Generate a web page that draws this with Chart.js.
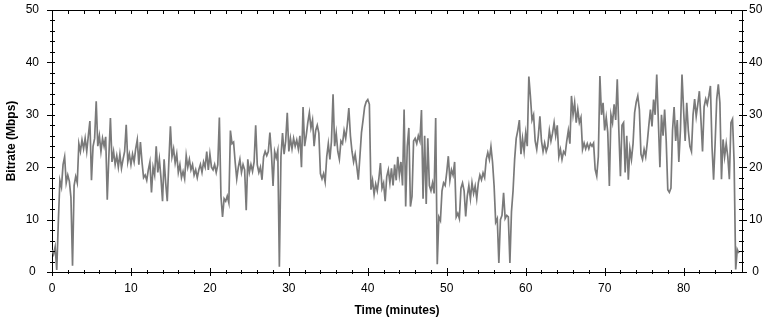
<!DOCTYPE html>
<html>
<head>
<meta charset="utf-8">
<script src="https://cdn.jsdelivr.net/npm/chart.js@4.4.1/dist/chart.umd.min.js"></script>
<style>
  html, body { margin: 0; padding: 0; background: #fff; }
  #wrap { width: 770px; height: 321px; position: relative; }
</style>
</head>
<body>
<div id="wrap"><canvas id="c"></canvas></div>
<script>
// ---- data ----
const TIME_STEP = 0.2;          // minutes between samples
const X_MIN = 0, X_MAX = 87.4;  // minutes
const Y_MIN = 0, Y_MAX = 50;    // Mbps
const xTickValues = [0, 10, 20, 30, 40, 50, 60, 70, 80];
const yTickValues = [0, 10, 20, 30, 40, 50];
const xTitle = 'Time (minutes)';
const yTitle = 'Bitrate (Mbps)';

// bitrate in Mbps, one sample every TIME_STEP minutes (10 per row = 2 minutes)
const bitrate = [
  4.2, 3.4, 4.8, 0.4, 9.5, 17.5, 16.2, 20.5, 22.0, 17.0,
  18.5, 17.3, 14.2, 1.2, 16.5, 18.2, 17.0, 24.5, 23.0, 25.2,
  23.5, 25.5, 23.0, 26.0, 28.8, 17.5, 24.0, 25.5, 32.6, 24.0,
  26.0, 23.0, 25.5, 24.0, 25.8, 13.8, 22.0, 29.4, 21.0, 23.0,
  20.5, 22.2, 20.0, 22.5, 19.8, 21.5, 23.0, 28.1, 21.0, 22.5,
  20.5, 22.5, 21.0, 23.5, 25.2, 20.5, 24.8, 21.0, 18.0, 18.5,
  17.5, 19.5, 21.0, 15.2, 20.0, 18.5, 24.0, 19.0, 21.5, 18.0,
  13.5, 21.5, 17.0, 13.5, 21.0, 27.8, 22.0, 23.5, 20.8, 22.5,
  19.0, 20.5, 18.0, 19.2, 17.8, 22.2, 20.0, 21.5, 19.5, 20.5,
  18.5, 19.5, 18.0, 19.5, 20.5, 19.0, 21.0, 20.0, 23.0, 19.5,
  22.5, 20.0, 19.5, 20.5, 19.0, 20.5, 29.5, 14.5, 10.5, 14.0,
  13.5, 14.5, 13.2, 27.0, 24.5, 24.8, 21.0, 17.8, 20.0, 21.5,
  19.0, 20.5, 19.5, 11.8, 21.5, 19.0, 20.5, 19.2, 21.0, 28.0,
  20.5, 19.0, 20.0, 17.6, 22.0, 23.0, 22.2, 23.0, 26.6, 22.5,
  16.4, 23.0, 21.8, 23.2, 1.0, 22.0, 26.5, 22.5, 25.0, 30.4,
  23.0, 25.5, 23.5, 25.5, 24.0, 25.2, 23.5, 26.0, 20.0, 31.5,
  24.0, 26.0, 28.5, 30.4, 27.5, 29.0, 24.0, 27.0, 28.0, 26.5,
  18.8, 17.8, 18.8, 17.2, 22.0, 24.5, 21.5, 25.0, 33.9, 24.0,
  26.5, 23.0, 21.5, 25.0, 24.5, 27.0, 25.5, 28.0, 31.3, 26.0,
  23.0, 21.0, 22.5, 20.2, 17.6, 22.0, 26.6, 29.0, 31.5, 32.5,
  32.9, 32.0, 15.7, 17.5, 14.8, 16.8, 15.5, 17.8, 20.8, 16.0,
  17.0, 13.5, 18.2, 19.5, 17.0, 19.8, 16.5, 20.5, 17.5, 22.0,
  18.5, 21.0, 16.5, 31.0, 12.5, 24.0, 27.5, 12.5, 14.4, 25.0,
  25.5, 24.5, 26.0, 25.0, 30.9, 14.0, 26.0, 13.0, 25.5, 16.5,
  15.5, 17.0, 15.0, 29.4, 1.5, 10.5, 9.8, 15.5, 17.0, 16.5,
  19.0, 22.1, 17.5, 19.5, 18.5, 21.0, 10.5, 11.2, 10.2, 16.0,
  17.0, 15.5, 10.6, 14.5, 16.5, 14.0, 17.0, 15.0, 16.4, 14.0,
  17.0, 18.5, 17.6, 18.9, 18.0, 21.5, 22.8, 21.5, 23.9, 21.0,
  16.4, 9.5, 10.2, 1.7, 10.0, 10.8, 15.1, 10.2, 10.8, 10.5,
  1.7, 11.5, 15.5, 21.5, 25.5, 27.0, 29.0, 22.5, 25.5, 23.0,
  26.5, 24.0, 37.3, 33.5, 29.0, 30.0, 25.0, 23.4, 26.0, 29.7,
  25.0, 23.0, 24.6, 23.0, 24.0, 27.0, 25.0, 26.5, 28.5, 26.0,
  28.0, 22.0, 23.4, 21.5, 23.0, 22.5, 25.0, 27.0, 24.5, 33.6,
  30.0, 32.3, 28.5, 31.0, 28.5, 29.5, 23.4, 24.6, 23.5, 24.5,
  23.5, 24.5, 24.0, 24.6, 19.6, 18.3, 22.0, 37.4, 30.0, 32.3,
  27.0, 29.5, 26.6, 16.4, 30.0, 28.5, 32.0, 29.0, 36.8, 27.0,
  18.3, 28.0, 28.5, 19.0, 26.0, 17.6, 23.5, 21.5, 24.5, 30.4,
  32.4, 33.6, 31.0, 22.5, 21.5, 23.4, 22.0, 24.7, 28.0, 31.0,
  27.8, 32.9, 30.0, 37.7, 29.0, 20.0, 30.0, 26.0, 31.0, 25.0,
  15.7, 15.2, 16.0, 27.0, 31.5, 25.0, 29.0, 21.0, 27.0, 37.7,
  31.0, 25.0, 32.3, 27.0, 24.0, 23.0, 30.0, 33.0, 29.7, 32.0,
  34.5, 29.0, 23.0, 31.5, 33.0, 32.0, 33.6, 35.5, 24.0, 17.6,
  24.7, 33.0, 35.8, 32.3, 17.7, 25.3, 22.0, 24.5, 22.0, 17.7,
  28.5, 29.2, 21.0, 0.5, 4.3, 3.6
];

// ---- chart ----
const points = bitrate.map((v, i) => ({ x: +(i * TIME_STEP).toFixed(2), y: v }));

const FONT = { family: '"Liberation Sans", Arial, sans-serif', size: 12 };
const TITLE_FONT = { family: '"Liberation Sans", Arial, sans-serif', size: 12, weight: 'bold' };

// tick marks and top frame line, positioned through the chart's own scales
const axisTicks = {
  id: 'axisTicks',
  afterDraw(chart) {
    const { ctx, chartArea: a, scales: { x, y } } = chart;
    const L = Math.round(a.left), R = Math.round(a.right);
    const T = Math.round(a.top), B = Math.round(a.bottom);
    ctx.save();
    ctx.strokeStyle = '#000';
    ctx.lineWidth = 1;
    ctx.beginPath();
    ctx.moveTo(L, T + 0.5);
    ctx.lineTo(R + 1, T + 0.5);
    for (let v = Y_MIN; v <= Y_MAX; v += 2) {
      const p = Math.round(y.getPixelForValue(v)) + 0.5;
      const major = v % 10 === 0;
      ctx.moveTo(L - (major ? 5 : 2), p);
      ctx.lineTo(L + 3, p);
      ctx.moveTo(R - 3, p);
      ctx.lineTo(R + (major ? 5 : 2), p);
    }
    for (let v = X_MIN; v <= X_MAX; v += 2) {
      const p = Math.round(x.getPixelForValue(v)) + 0.5;
      const major = v % 10 === 0;
      ctx.moveTo(p, B - (major ? 4 : 2));
      ctx.lineTo(p, B + (major ? 4 : 2));
      ctx.moveTo(p, T);
      ctx.lineTo(p, T + 4);
    }
    ctx.stroke();
    ctx.restore();
  }
};

const fitVertical = width => s => {
  s.width = width;
  s.paddingTop = 7;
  s.paddingBottom = 7;
};

new Chart(document.getElementById('c'), {
  type: 'line',
  data: {
    datasets: [{
      data: points,
      borderColor: '#7a7a7a',
      borderWidth: 1.7,
      pointRadius: 0,
      tension: 0,
      fill: false
    }]
  },
  options: {
    responsive: true,
    maintainAspectRatio: false,
    animation: false,
    parsing: false,
    normalized: true,
    layout: { padding: { top: 10, left: 0, right: 0, bottom: 0 } },
    plugins: { legend: { display: false }, tooltip: { enabled: false } },
    scales: {
      x: {
        type: 'linear', position: 'bottom', min: X_MIN, max: X_MAX,
        afterBuildTicks: s => { s.ticks = xTickValues.map(v => ({ value: v })); },
        afterFit: s => { s.height = 49; },
        grid: { display: false, drawTicks: false },
        border: { display: true, color: '#000', width: 1 },
        ticks: { color: '#000', font: FONT, padding: 9, maxRotation: 0, autoSkip: false },
        title: { display: true, text: xTitle, color: '#000', font: TITLE_FONT, padding: { top: 0, bottom: 3 } }
      },
      y: {
        type: 'linear', position: 'left', min: Y_MIN, max: Y_MAX,
        afterBuildTicks: s => { s.ticks = yTickValues.map(v => ({ value: v })); },
        afterFit: fitVertical(52),
        grid: { display: false, drawTicks: false },
        border: { display: true, color: '#000', width: 1 },
        ticks: { color: '#000', font: FONT, padding: 13, crossAlign: 'center' },
        title: { display: true, text: yTitle, color: '#000', font: TITLE_FONT, padding: { top: 4, bottom: 0 } }
      },
      y2: {
        type: 'linear', position: 'right', min: Y_MIN, max: Y_MAX,
        afterBuildTicks: s => { s.ticks = yTickValues.map(v => ({ value: v })); },
        afterFit: fitVertical(28),
        grid: { display: false, drawTicks: false },
        border: { display: true, color: '#000', width: 1 },
        ticks: { color: '#000', font: FONT, padding: 7, crossAlign: 'center' }
      }
    }
  },
  plugins: [axisTicks]
});
</script>
</body>
</html>
